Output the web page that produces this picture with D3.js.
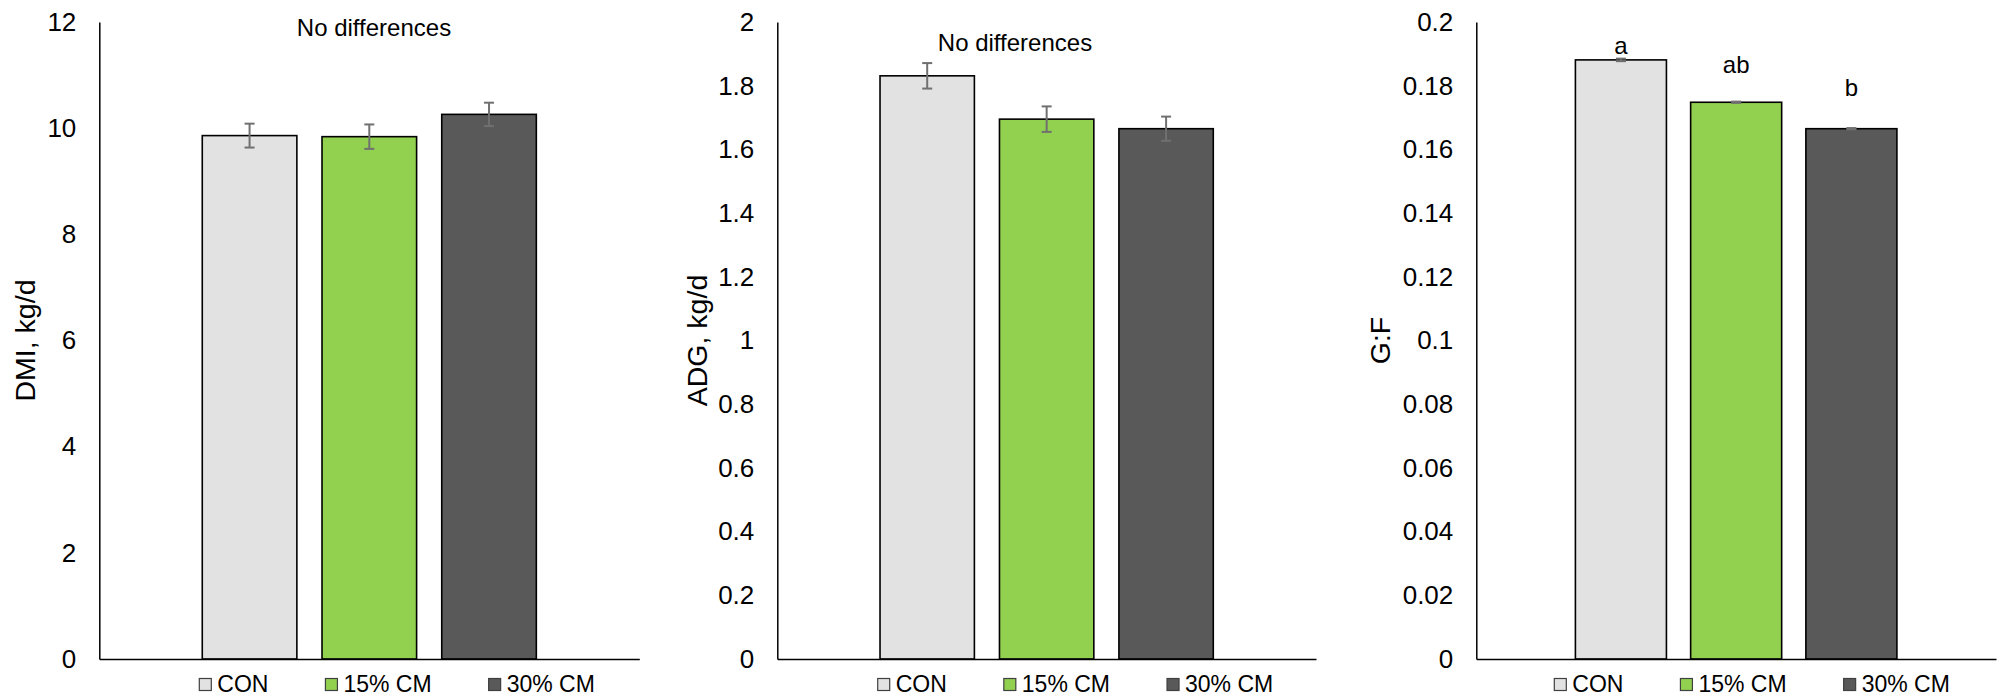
<!DOCTYPE html>
<html>
<head>
<meta charset="utf-8">
<script src="https://cdn.jsdelivr.net/npm/d3@7"></script>
<style>
  body { margin: 0; background: #fff; }
  text { font-family: "Liberation Sans", Arial, sans-serif; fill: #000; }
</style>
</head>
<body>
<div id="chart"></div>
<script>
const WIDTH = 2001;
const HEIGHT = 698;

// data
const groups = ["CON", "15% CM", "30% CM"];
const colors = ["#e2e2e2", "#92d050", "#595959"];

const dmiMean = [9.86, 9.84, 10.26];
const dmiSE = [0.225, 0.23, 0.22];
const dmiTicks = [0, 2, 4, 6, 8, 10, 12];

const adgMean = [1.831, 1.695, 1.665];
const adgSE = [0.04, 0.04, 0.038];
const adgTicks = [0, 0.2, 0.4, 0.6, 0.8, 1, 1.2, 1.4, 1.6, 1.8, 2];

const gfMean = [0.1881, 0.1748, 0.1665];
const gfSE = [0.0004, 0.0002, 0.0002];
const gfTicks = [0, 0.02, 0.04, 0.06, 0.08, 0.1, 0.12, 0.14, 0.16, 0.18, 0.2];
const gfLetters = ["a", "ab", "b"];

const TOP = 22;
const BASE = 659;

const panels = [
  {x0: 99.3, x1: 639.3, mean: dmiMean, se: dmiSE, ticks: dmiTicks, title: "DMI, kg/d",
   titleX: 35, note: "No differences", noteX: 374, noteY: 36, legendX: 199.3},
  {x0: 777.3, x1: 1316, mean: adgMean, se: adgSE, ticks: adgTicks, title: "ADG, kg/d",
   titleX: 707, note: "No differences", noteX: 1015, noteY: 51, legendX: 877.7},
  {x0: 1476.3, x1: 1996, mean: gfMean, se: gfSE, ticks: gfTicks, title: "G:F",
   titleX: 1390, letters: gfLetters, letterOff: [6, 29, 33], legendX: 1554.3}
];

const svg = d3.select("#chart").append("svg")
  .attr("width", WIDTH)
  .attr("height", HEIGHT)

panels.forEach(p => {
  const g = svg.append("g")

  const x = d3.scaleBand()
    .domain(groups)
    .range([p.x0, p.x1])
    .paddingInner(0.21)
    .paddingOuter(0.86);

  const y = d3.scaleLinear()
    .domain([0, d3.max(p.ticks)])
    .range([BASE, TOP]);

  // y axis
  const yAxis = g.append("g")
    .attr("transform", `translate(${p.x0},0)`)
    .call(d3.axisLeft(y).tickValues(p.ticks).tickSize(0).tickSizeOuter(0).tickPadding(23).tickFormat(d3.format("")))
  yAxis.select(".domain").attr("stroke", "#000").attr("stroke-width", 1.5)
  yAxis.selectAll("text")
    .style("font-size", "26px")
    .attr("fill", "#000")

  // bars
  g.selectAll(".bar")
    .data(groups)
    .join("rect")
    .attr("x", d => x(d))
    .attr("y", (d, i) => y(p.mean[i]))
    .attr("width", x.bandwidth())
    .attr("height", (d, i) => y(0) - y(p.mean[i]))
    .attr("fill", (d, i) => colors[i])
    .attr("stroke", "#000")
    .attr("stroke-width", 1.6)

  // error bars
  const eb = g.selectAll(".err")
    .data(groups)
    .join("g")
    .attr("stroke", "#707070")
    .attr("stroke-width", 2)
  eb.append("line")
    .attr("x1", d => x(d) + x.bandwidth() / 2)
    .attr("x2", d => x(d) + x.bandwidth() / 2)
    .attr("y1", (d, i) => y(p.mean[i] - p.se[i]))
    .attr("y2", (d, i) => y(p.mean[i] + p.se[i]))
  eb.append("line")
    .attr("x1", d => x(d) + x.bandwidth() / 2 - 5)
    .attr("x2", d => x(d) + x.bandwidth() / 2 + 5)
    .attr("y1", (d, i) => y(p.mean[i] + p.se[i]))
    .attr("y2", (d, i) => y(p.mean[i] + p.se[i]))
  eb.append("line")
    .attr("x1", d => x(d) + x.bandwidth() / 2 - 5)
    .attr("x2", d => x(d) + x.bandwidth() / 2 + 5)
    .attr("y1", (d, i) => y(p.mean[i] - p.se[i]))
    .attr("y2", (d, i) => y(p.mean[i] - p.se[i]))

  // x axis line
  const xAxis = g.append("g")
    .attr("transform", `translate(0,${BASE})`)
    .call(d3.axisBottom(x).tickSize(0).tickSizeOuter(0).tickFormat(""))
  xAxis.select(".domain").attr("stroke", "#000").attr("stroke-width", 1.6)

  // axis title
  g.append("text")
    .attr("transform", `translate(${p.titleX},${(TOP + BASE) / 2}) rotate(-90)`)
    .attr("text-anchor", "middle")
    .style("font-size", "28.5px")
    .text(p.title)

  if (p.note) {
    g.append("text")
      .attr("x", p.noteX)
      .attr("y", p.noteY)
      .attr("text-anchor", "middle")
      .style("font-size", "24px")
      .text(p.note)
  }

  if (p.letters) {
    g.selectAll(".sig")
      .data(p.letters)
      .join("text")
      .attr("x", (d, i) => x(groups[i]) + x.bandwidth() / 2)
      .attr("y", (d, i) => y(p.mean[i]) - p.letterOff[i])
      .attr("text-anchor", "middle")
      .style("font-size", "24px")
      .text(d => d)
  }

  // legend
  let lx = p.legendX;
  groups.forEach((name, i) => {
    g.append("rect")
      .attr("x", lx)
      .attr("y", 678.5)
      .attr("width", 12)
      .attr("height", 12)
      .attr("fill", colors[i])
      .attr("stroke", "#404040")
      .attr("stroke-width", 1.2)
    const t = g.append("text")
      .attr("x", lx + 18)
      .attr("y", 691.5)
      .style("font-size", "23px")
      .text(name)
    lx += 18 + t.node().getComputedTextLength() + 57;
  })
})
</script>
</body>
</html>
